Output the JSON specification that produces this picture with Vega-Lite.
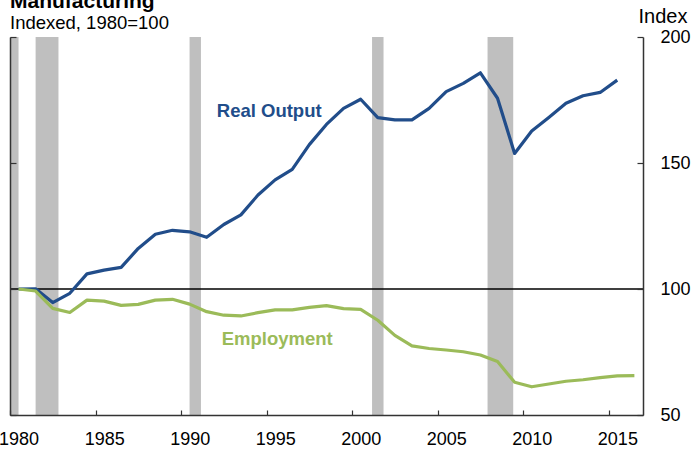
{
  "$schema": "https://vega.github.io/schema/vega-lite/v6.json",
  "width": 633,
  "height": 378,
  "autosize": {"type": "none"},
  "padding": {"left": 10, "top": 37, "right": 48, "bottom": 37},
  "background": "white",
  "title": {
    "text": "Manufacturing",
    "subtitle": "Indexed, 1980=100",
    "anchor": "start",
    "frame": "group",
    "font": "Liberation Sans",
    "fontSize": 21,
    "fontWeight": "bold",
    "color": "black",
    "subtitleFont": "Liberation Sans",
    "subtitleFontSize": 18.5,
    "subtitleColor": "black",
    "offset": -26,
    "subtitlePadding": 2
  },
  "datasets": {
    "recessions": [
      {"start": "1980-01-01", "end": "1980-07-01"},
      {"start": "1981-07-01", "end": "1982-11-01"},
      {"start": "1990-07-01", "end": "1991-03-01"},
      {"start": "2001-03-01", "end": "2001-11-01"},
      {"start": "2007-12-01", "end": "2009-06-01"}
    ],
    "baseline": [
      {"level": 100}
    ],
    "series": [
      {"date": "1980-07-01", "series": "Real Output", "value": 100},
      {"date": "1981-07-01", "series": "Real Output", "value": 100.1},
      {"date": "1982-07-01", "series": "Real Output", "value": 94.6},
      {"date": "1983-07-01", "series": "Real Output", "value": 98.3},
      {"date": "1984-07-01", "series": "Real Output", "value": 106.0},
      {"date": "1985-07-01", "series": "Real Output", "value": 107.5},
      {"date": "1986-07-01", "series": "Real Output", "value": 108.6},
      {"date": "1987-07-01", "series": "Real Output", "value": 116.1},
      {"date": "1988-07-01", "series": "Real Output", "value": 121.7},
      {"date": "1989-07-01", "series": "Real Output", "value": 123.3},
      {"date": "1990-07-01", "series": "Real Output", "value": 122.7},
      {"date": "1991-07-01", "series": "Real Output", "value": 120.5},
      {"date": "1992-07-01", "series": "Real Output", "value": 125.6},
      {"date": "1993-07-01", "series": "Real Output", "value": 129.4},
      {"date": "1994-07-01", "series": "Real Output", "value": 137.3},
      {"date": "1995-07-01", "series": "Real Output", "value": 143.3},
      {"date": "1996-07-01", "series": "Real Output", "value": 147.5},
      {"date": "1997-07-01", "series": "Real Output", "value": 157.3},
      {"date": "1998-07-01", "series": "Real Output", "value": 165.3},
      {"date": "1999-07-01", "series": "Real Output", "value": 171.7},
      {"date": "2000-07-01", "series": "Real Output", "value": 175.3},
      {"date": "2001-07-01", "series": "Real Output", "value": 168.0},
      {"date": "2002-07-01", "series": "Real Output", "value": 167.1},
      {"date": "2003-07-01", "series": "Real Output", "value": 167.1},
      {"date": "2004-07-01", "series": "Real Output", "value": 171.7},
      {"date": "2005-07-01", "series": "Real Output", "value": 178.3},
      {"date": "2006-07-01", "series": "Real Output", "value": 181.6},
      {"date": "2007-07-01", "series": "Real Output", "value": 185.8},
      {"date": "2008-07-01", "series": "Real Output", "value": 175.7},
      {"date": "2009-07-01", "series": "Real Output", "value": 153.8},
      {"date": "2010-07-01", "series": "Real Output", "value": 162.7},
      {"date": "2011-07-01", "series": "Real Output", "value": 168.1},
      {"date": "2012-07-01", "series": "Real Output", "value": 173.7},
      {"date": "2013-07-01", "series": "Real Output", "value": 176.7},
      {"date": "2014-07-01", "series": "Real Output", "value": 178.0},
      {"date": "2015-07-01", "series": "Real Output", "value": 182.9},
      {"date": "1980-07-01", "series": "Employment", "value": 100},
      {"date": "1981-07-01", "series": "Employment", "value": 99.2},
      {"date": "1982-07-01", "series": "Employment", "value": 92.3},
      {"date": "1983-07-01", "series": "Employment", "value": 90.7},
      {"date": "1984-07-01", "series": "Employment", "value": 95.6},
      {"date": "1985-07-01", "series": "Employment", "value": 95.2},
      {"date": "1986-07-01", "series": "Employment", "value": 93.5},
      {"date": "1987-07-01", "series": "Employment", "value": 93.9},
      {"date": "1988-07-01", "series": "Employment", "value": 95.6},
      {"date": "1989-07-01", "series": "Employment", "value": 95.9},
      {"date": "1990-07-01", "series": "Employment", "value": 94.0},
      {"date": "1991-07-01", "series": "Employment", "value": 91.0},
      {"date": "1992-07-01", "series": "Employment", "value": 89.6},
      {"date": "1993-07-01", "series": "Employment", "value": 89.3},
      {"date": "1994-07-01", "series": "Employment", "value": 90.6},
      {"date": "1995-07-01", "series": "Employment", "value": 91.7},
      {"date": "1996-07-01", "series": "Employment", "value": 91.7},
      {"date": "1997-07-01", "series": "Employment", "value": 92.7},
      {"date": "1998-07-01", "series": "Employment", "value": 93.4},
      {"date": "1999-07-01", "series": "Employment", "value": 92.2},
      {"date": "2000-07-01", "series": "Employment", "value": 91.9},
      {"date": "2001-07-01", "series": "Employment", "value": 87.6},
      {"date": "2002-07-01", "series": "Employment", "value": 81.6},
      {"date": "2003-07-01", "series": "Employment", "value": 77.4},
      {"date": "2004-07-01", "series": "Employment", "value": 76.4},
      {"date": "2005-07-01", "series": "Employment", "value": 75.8},
      {"date": "2006-07-01", "series": "Employment", "value": 75.1},
      {"date": "2007-07-01", "series": "Employment", "value": 73.8},
      {"date": "2008-07-01", "series": "Employment", "value": 71.2},
      {"date": "2009-07-01", "series": "Employment", "value": 63.0},
      {"date": "2010-07-01", "series": "Employment", "value": 61.2},
      {"date": "2011-07-01", "series": "Employment", "value": 62.3},
      {"date": "2012-07-01", "series": "Employment", "value": 63.4},
      {"date": "2013-07-01", "series": "Employment", "value": 64.0},
      {"date": "2014-07-01", "series": "Employment", "value": 64.8},
      {"date": "2015-07-01", "series": "Employment", "value": 65.5},
      {"date": "2016-07-01", "series": "Employment", "value": 65.6}
    ],
    "labels": [
      {"date": "1995-02-25", "series": "Real Output", "value": 168.4},
      {"date": "1995-08-15", "series": "Employment", "value": 77.8}
    ]
  },
  "layer": [
    {
      "data": {"name": "recessions"},
      "mark": {"type": "rect", "color": "#bfbfbf"},
      "encoding": {
        "x": {
          "field": "start",
          "type": "temporal",
          "scale": {"domain": ["1980-01-01", "2017-01-01"]},
          "axis": {
            "orient": "bottom",
            "title": null,
            "values": ["1980-01-01", "1985-01-01", "1990-01-01", "1995-01-01", "2000-01-01", "2005-01-01", "2010-01-01", "2015-01-01"],
            "format": "%Y",
            "labelOffset": 8.6,
            "labelFlush": false,
            "labelOverlap": false,
            "domain": true,
            "domainColor": "#333333",
            "domainWidth": 1.5,
            "ticks": true,
            "tickColor": "#333333",
            "tickSize": -5,
            "labelPadding": 20,
            "grid": false,
            "zindex": 2
          }
        },
        "x2": {"field": "end"}
      }
    },
    {
      "data": {"name": "baseline"},
      "mark": {"type": "rule", "color": "black", "strokeWidth": 1.3},
      "encoding": {
        "y": {
          "field": "level",
          "type": "quantitative",
          "scale": {"domain": [50, 200], "nice": false},
          "axis": {
            "orient": "left",
            "title": null,
            "labels": false,
            "values": [50, 100, 150, 200],
            "domain": true,
            "domainColor": "#333333",
            "domainWidth": 1.5,
            "ticks": true,
            "tickColor": "#333333",
            "tickSize": -6,
            "grid": false,
            "zindex": 2
          }
        }
      }
    },
    {
      "layer": [
        {
          "data": {"name": "series"},
          "mark": {"type": "line", "strokeWidth": 3.2, "strokeJoin": "round"},
          "encoding": {
            "x": {"field": "date", "type": "temporal"},
            "y": {
              "field": "value",
              "type": "quantitative",
              "axis": {
                "orient": "right",
                "title": "Index",
                "titleAngle": 0,
                "titleAlign": "left",
                "titleBaseline": "alphabetic",
                "titleX": -5,
                "titleY": -15,
                "titleFont": "Liberation Sans",
                "titleFontSize": 20,
                "titleFontWeight": "normal",
                "titleColor": "black",
                "values": [50, 100, 150, 200],
                "domain": true,
                "domainColor": "#333333",
                "domainWidth": 1.5,
                "ticks": true,
                "tickColor": "#333333",
                "tickSize": -6,
                "labelPadding": 23,
                "labelAlign": "left",
                "grid": false,
                "zindex": 2
              }
            },
            "color": {
              "field": "series",
              "type": "nominal",
              "scale": {"domain": ["Real Output", "Employment"], "range": ["#214d8a", "#9bbb59"]},
              "legend": null
            },
            "detail": {"field": "series"}
          }
        },
        {
          "data": {"name": "labels"},
          "mark": {"type": "text", "font": "Liberation Sans", "fontSize": 18.5, "fontWeight": "bold", "align": "center", "baseline": "alphabetic"},
          "encoding": {
            "x": {"field": "date", "type": "temporal"},
            "y": {"field": "value", "type": "quantitative"},
            "text": {"field": "series"},
            "color": {"field": "series", "type": "nominal", "legend": null}
          }
        }
      ]
    }
  ],
  "resolve": {"axis": {"y": "independent"}},
  "config": {
    "view": {"stroke": null},
    "axis": {
      "labelFont": "Liberation Sans",
      "labelFontSize": 18,
      "labelColor": "black",
      "tickWidth": 1.2
    }
  }
}
